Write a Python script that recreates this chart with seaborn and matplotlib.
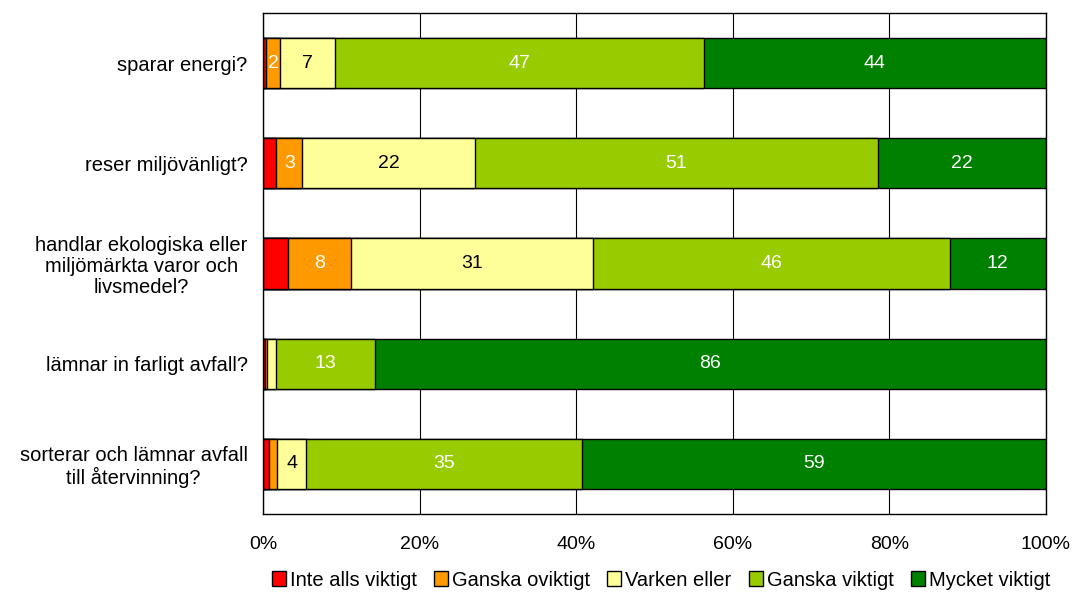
import numpy as np
import pandas as pd
import matplotlib
matplotlib.use("Agg")
import matplotlib.pyplot as plt
import seaborn as sns
from matplotlib.patches import Patch

categories = [
    "sparar energi?",
    "reser miljövänligt?",
    "handlar ekologiska eller\nmiljömärkta varor och\nlivsmedel?",
    "lämnar in farligt avfall?",
    "sorterar och lämnar avfall\ntill återvinning?",
]
series_names = ["Inte alls viktigt", "Ganska oviktigt", "Varken eller", "Ganska viktigt", "Mycket viktigt"]
inte_alls = [0.4, 1.7, 3.2, 0.2, 0.8]
ganska_oviktigt = [1.8, 3.3, 8.0, 0.3, 1.0]
varken_eller = [7.0, 22.1, 30.9, 1.2, 3.7]
ganska_viktigt = [47.1, 51.4, 45.6, 12.6, 35.2]
mycket_viktigt = [43.7, 21.5, 12.3, 85.7, 59.3]
colors = ["#FF0000", "#FF9900", "#FFFF99", "#99CC00", "#008000"]
text_colors = ["white", "white", "black", "white", "white"]
show_labels = [False, True, True, True, True]
xticklabels = ["0%", "20%", "40%", "60%", "80%", "100%"]

sns.set_theme(style="white")
plt.rcParams["font.family"] = ["Liberation Sans", "DejaVu Sans"]
plt.rcParams["text.color"] = "black"
plt.rcParams["xtick.color"] = "black"
plt.rcParams["ytick.color"] = "black"

values = [inte_alls, ganska_oviktigt, varken_eller, ganska_viktigt, mycket_viktigt]
arr = np.array(values)
cum = np.cumsum(arr, axis=0)

fig = plt.figure(figsize=(10.75, 5.92), dpi=100)
ax = fig.add_axes([263 / 1075, 1 - 514 / 592, (1046 - 263) / 1075, (514 - 13) / 592])

for i in reversed(range(len(series_names))):
    df = pd.DataFrame({"cat": categories, "val": cum[i]})
    sns.barplot(data=df, y="cat", x="val", orient="h", color=colors[i], ax=ax,
                width=0.5, edgecolor="black", linewidth=1, saturation=1, order=categories)

for i in range(len(series_names)):
    if not show_labels[i]:
        continue
    for j in range(len(categories)):
        v = arr[i, j]
        if round(v) < 2:
            continue
        center = cum[i, j] - v / 2
        ax.text(center, j, f"{round(v):.0f}", ha="center", va="center",
                color=text_colors[i], fontsize=14)

ax.set_xlim(0, 100)
ax.set_ylim(4.5, -0.5)
ax.set_xticks([0, 20, 40, 60, 80, 100])
ax.set_xticklabels(xticklabels, fontsize=14)
ax.tick_params(axis="x", length=0, pad=16, colors="black")
ax.tick_params(axis="y", length=0, pad=11, labelsize=14.5, colors="black")
for lab in ax.get_yticklabels():
    lab.set_multialignment("center")
    lab.set_linespacing(1.15)
ax.set_xlabel("")
ax.set_ylabel("")
ax.xaxis.grid(True, color="black", linewidth=0.8)
ax.set_axisbelow(True)
for s in ax.spines.values():
    s.set_visible(True)
    s.set_color("black")
    s.set_linewidth(1)

handles = [Patch(facecolor=c, edgecolor="black", linewidth=1) for c in colors]
fig.legend(handles, series_names, loc="center", bbox_to_anchor=(661 / 1075, 1 - 580 / 592),
           ncol=5, frameon=False, fontsize=14.5, handlelength=0.7, handleheight=0.7,
           handletextpad=0.2, columnspacing=0.85, borderpad=0, labelcolor="black")

fig.savefig("out.png", dpi=100)
